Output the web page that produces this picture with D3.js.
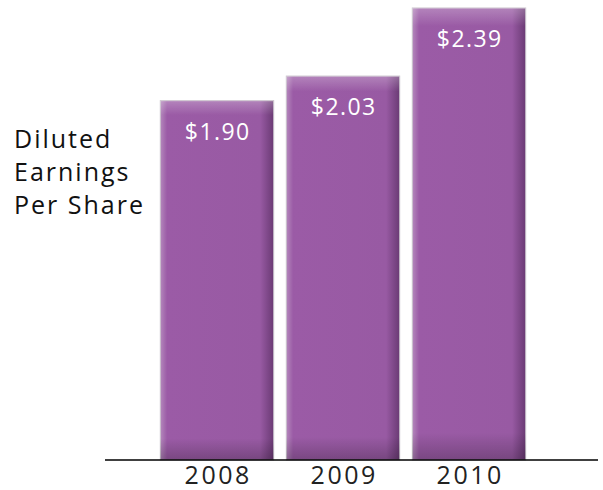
<!DOCTYPE html>
<html>
<head>
<meta charset="utf-8">
<script src="https://cdn.jsdelivr.net/npm/d3@7"></script>
<style>
  body { margin: 0; background: #fff; }
  text { font-family: "Open Sans", Lato, sans-serif; }
</style>
</head>
<body>
<script>
const years = ["2008", "2009", "2010"];
const eps = [1.90, 2.03, 2.39];
const valueLabels = ["$1.90", "$2.03", "$2.39"];
const axisTitle = ["Diluted", "Earnings", "Per Share"];

const width = 603, height = 490;
const baseY = 460;

const svg = d3.select("body").append("svg")
    .attr("width", width)
    .attr("height", height);

const defs = svg.append("defs");

// side shading of the bars
const hGrad = defs.append("linearGradient")
    .attr("id", "barH")
    .attr("x1", 0).attr("x2", 1).attr("y1", 0).attr("y2", 0);
hGrad.append("stop").attr("offset", "0%").attr("stop-color", "#b488bc");
hGrad.append("stop").attr("offset", "6%").attr("stop-color", "#9b5ba6");
hGrad.append("stop").attr("offset", "88%").attr("stop-color", "#985aa3");
hGrad.append("stop").attr("offset", "100%").attr("stop-color", "#6a3a74");

// top highlight and bottom shadow
const vGrad = defs.append("linearGradient")
    .attr("id", "barV")
    .attr("x1", 0).attr("x2", 0).attr("y1", 0).attr("y2", 1);
vGrad.append("stop").attr("offset", "0%").attr("stop-color", "#fff").attr("stop-opacity", 0.25);
vGrad.append("stop").attr("offset", "4%").attr("stop-color", "#fff").attr("stop-opacity", 0);
vGrad.append("stop").attr("offset", "94%").attr("stop-color", "#000").attr("stop-opacity", 0);
vGrad.append("stop").attr("offset", "100%").attr("stop-color", "#000").attr("stop-opacity", 0.22);

const x = d3.scaleBand()
    .domain(years)
    .range([154, 532])
    .paddingInner(0.1)
    .paddingOuter(0.05);

const y = d3.scaleLinear()
    .domain([0, 2.39])
    .range([baseY, 8]);

const data = years.map((yr, i) => ({ year: yr, value: eps[i], label: valueLabels[i] }));

const bars = svg.append("g").selectAll("g")
    .data(data)
    .enter()
    .append("g");

bars.append("rect")
    .attr("x", d => x(d.year))
    .attr("y", d => y(d.value))
    .attr("width", x.bandwidth())
    .attr("height", d => baseY - y(d.value))
    .attr("fill", "url(#barH)")
    .style("stroke", "#c9c2cb")
    .style("stroke-width", 1);

bars.append("rect")
    .attr("x", d => x(d.year))
    .attr("y", d => y(d.value))
    .attr("width", x.bandwidth())
    .attr("height", d => baseY - y(d.value))
    .attr("fill", "url(#barV)");

bars.append("text")
    .attr("x", d => x(d.year) + x.bandwidth() / 2 + 0.7)
    .attr("y", d => y(d.value) + 39)
    .attr("text-anchor", "middle")
    .style("font-size", "23px")
    .style("letter-spacing", "1.4px")
    .style("fill", "#fff")
    .text(d => d.label);

// baseline
svg.append("line")
    .attr("x1", 105).attr("x2", 598)
    .attr("y1", baseY).attr("y2", baseY)
    .style("stroke", "#000")
    .style("stroke-width", 1.5);

// year labels
svg.append("g").selectAll("text")
    .data(years)
    .enter()
    .append("text")
    .attr("x", d => x(d) + x.bandwidth() / 2 + 1.2)
    .attr("y", 484)
    .attr("text-anchor", "middle")
    .style("font-size", "25px")
    .style("letter-spacing", "2.5px")
    .style("fill", "#222")
    .text(d => d);

// left title
svg.append("g").selectAll("text")
    .data(axisTitle)
    .enter()
    .append("text")
    .attr("x", 14)
    .attr("y", (d, i) => 148 + i * 33)
    .style("font-size", "25px")
    .style("letter-spacing", "2px")
    .style("fill", "#111")
    .text(d => d);
</script>
</body>
</html>
